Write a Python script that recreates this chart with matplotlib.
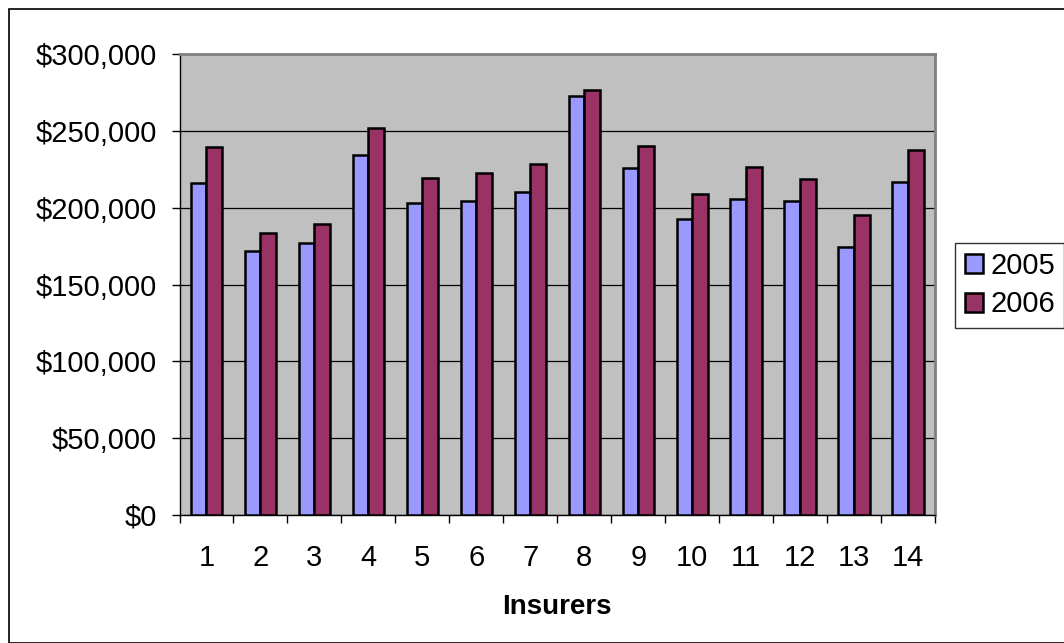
import numpy as np
import matplotlib.pyplot as plt
from matplotlib.patches import Rectangle
from matplotlib.ticker import FuncFormatter, MultipleLocator

# Premium per insurer, two years
insurers = [str(i) for i in range(1, 15)]
premium_2005 = [216000, 172000, 177000, 234000, 203000, 204300, 210200,
                272500, 225800, 192600, 205600, 204300, 174200, 216400]
premium_2006 = [239200, 183300, 189400, 251700, 219300, 222300, 228100,
                276600, 240000, 208700, 226400, 218800, 195500, 237500]

plt.rcParams["font.family"] = ["Liberation Sans", "DejaVu Sans"]

fig = plt.figure(figsize=(10.64, 6.43), dpi=100)
ax = fig.add_axes([179.5 / 1064, 1 - 515 / 643, (935 - 179.5) / 1064, (515 - 54) / 643])

x = np.arange(len(insurers))
w = 0.29
ax.bar(x - w / 2, premium_2005, w, color="#9999FF", edgecolor="black", linewidth=1.8,
       label="2005", zorder=3)
ax.bar(x + w / 2, premium_2006, w, color="#993366", edgecolor="black", linewidth=1.8,
       label="2006", zorder=3)

ax.set_facecolor("#C0C0C0")
ax.set_xlim(-0.5, len(insurers) - 0.5)
ax.set_ylim(0, 300000)

# y axis: dollar labels, gridlines every 50k
ax.yaxis.set_major_locator(MultipleLocator(50000))
ax.yaxis.set_major_formatter(FuncFormatter(lambda v, p: f"${v:,.0f}"))
ax.grid(axis="y", color="black", linewidth=0.9, zorder=1)
ax.tick_params(axis="y", direction="out", length=6, width=1, pad=10, labelsize=21)

# x axis: labels at centers, ticks between groups
ax.set_xticks(x)
ax.set_xticklabels(insurers)
ax.set_xticks(np.arange(-0.5, len(insurers)), minor=True)
ax.tick_params(axis="x", which="major", length=0, pad=21, labelsize=21)
ax.tick_params(axis="x", which="minor", direction="out", length=6, width=1)
ax.set_xlabel("Insurers", fontsize=20, fontweight="bold", labelpad=16)

for side in ["top", "right"]:
    ax.spines[side].set_color("#808080")
    ax.spines[side].set_linewidth(2)
for side in ["left", "bottom"]:
    ax.spines[side].set_color("black")
    ax.spines[side].set_linewidth(1)

leg = ax.legend(loc="upper left", bbox_to_anchor=(955 / 1064, 1 - 242.5 / 643),
                bbox_transform=fig.transFigure, fontsize=21, frameon=True,
                fancybox=False, edgecolor="black", handlelength=0.62,
                handleheight=0.62, handletextpad=0.25, borderpad=0.33,
                labelspacing=0.35, borderaxespad=0)
leg.get_frame().set_linewidth(1)

# outer chart border
fig.patches.append(Rectangle((8.5 / 1064, 0), 1.2, 1 - 9 / 643, transform=fig.transFigure,
                             fill=False, edgecolor="black", linewidth=1.2, clip_on=False))

fig.savefig("out.png", dpi=100)
